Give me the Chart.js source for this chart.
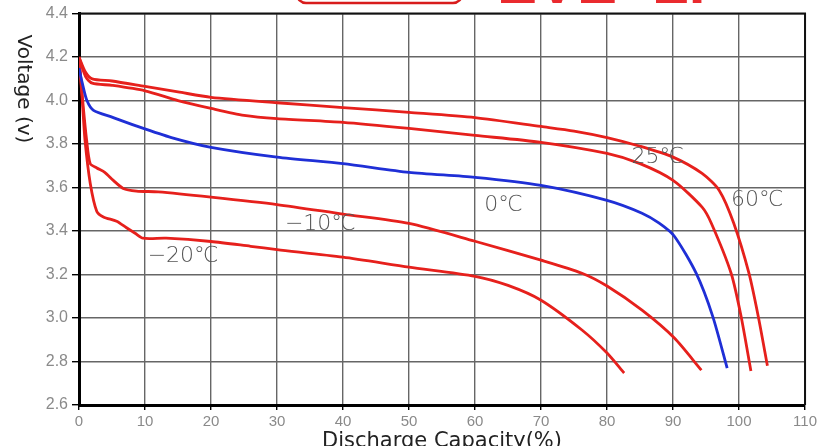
<!DOCTYPE html>
<html>
<head>
<meta charset="utf-8">
<script src="https://cdn.jsdelivr.net/npm/chart.js@4/dist/chart.umd.min.js"></script>
<style>
  html, body { margin: 0; padding: 0; background: #fff; }
  #wrap { width: 820px; height: 446px; }
</style>
</head>
<body>
<div id="wrap"><canvas id="myChart" width="820" height="446"></canvas></div>
<script>
// discharge capacity (%) / voltage (V)
const t60x = [0, 1, 2, 5, 10, 15, 20, 30, 40, 50, 60, 70, 75, 80, 85, 90, 94.4, 97, 99.2, 101.5, 102.9, 104.3];
const t60y = [4.2, 4.13, 4.1, 4.09, 4.065, 4.04, 4.015, 3.99, 3.968, 3.946, 3.922, 3.881, 3.86, 3.83, 3.79, 3.74, 3.665, 3.587, 3.436, 3.206, 3.009, 2.78];

const t25x = [0, 1, 2, 5, 10, 15, 20, 25, 30, 40, 50, 60, 70, 80, 85, 90, 94.4, 95.8, 98.8, 100.3, 101.8];
const t25y = [4.2, 4.11, 4.08, 4.07, 4.045, 4.0, 3.964, 3.932, 3.917, 3.9, 3.872, 3.84, 3.808, 3.757, 3.71, 3.633, 3.51, 3.436, 3.206, 3.009, 2.756];

const t0x = [0, 0.5, 1.2, 2.2, 5, 9, 14, 20, 30, 40, 50, 60, 70, 80, 85.3, 87.9, 90.2, 93.5, 96, 98.2];
const t0y = [4.15, 4.08, 4.0, 3.955, 3.924, 3.88, 3.83, 3.785, 3.74, 3.71, 3.67, 3.647, 3.61, 3.541, 3.482, 3.436, 3.376, 3.206, 3.009, 2.77];

const tm10x = [0, 0.65, 1.15, 1.7, 2.7, 3.9, 5.2, 6.7, 8.7, 12, 20, 30, 40, 50, 60, 70, 76.2, 80, 85.3, 90.2, 94.3];
const tm10y = [4.2, 3.97, 3.82, 3.71, 3.69, 3.67, 3.633, 3.596, 3.584, 3.58, 3.556, 3.522, 3.478, 3.435, 3.353, 3.266, 3.206, 3.147, 3.036, 2.908, 2.76];

const tm20x = [0, 0.5, 0.9, 1.7, 2.7, 3.7, 5.7, 7.2, 8.5, 9.7, 13.2, 20, 26, 30, 40, 50, 60, 65, 70, 76.2, 80, 82.6];
const tm20y = [4.2, 4.0, 3.82, 3.62, 3.49, 3.465, 3.445, 3.415, 3.39, 3.367, 3.367, 3.352, 3.33, 3.315, 3.28, 3.234, 3.192, 3.15, 3.082, 2.945, 2.839, 2.747];

const curveLabels = ['60℃', '25℃', '0℃', '−10℃', '−20℃'];
const curveColors = ['#e6201c', '#e6201c', '#1f2fd6', '#e6201c', '#e6201c'];

const xTicks = [0, 10, 20, 30, 40, 50, 60, 70, 80, 90, 100, 110];
const yTicks = [2.6, 2.8, 3.0, 3.2, 3.4, 3.6, 3.8, 4.0, 4.2, 4.4];

const xTitle = 'Discharge Capacity(%)';
const yTitle = 'Voltage (v)';

// where the temperature notes sit, in data units (left edge, middle)
const notePlaces = [
  [98.8, 3.541],
  [83.7, 3.739],
  [61.4, 3.518],
  [31.2, 3.431],
  [10.4, 3.284]
];

const toPoints = (xs, ys) => xs.map((x, i) => ({ x: x, y: ys[i] }));

const series = [
  toPoints(t60x, t60y),
  toPoints(t25x, t25y),
  toPoints(t0x, t0y),
  toPoints(tm10x, tm10y),
  toPoints(tm20x, tm20y)
];

const extras = {
  id: 'extras',
  beforeDraw(chart) {
    const c = chart.ctx;
    c.save();
    // cut-off red badge and lettering at the very top
    c.strokeStyle = '#d81c1c';
    c.lineWidth = 2.5;
    c.beginPath();
    c.roundRect(297, -30, 165, 33, 9);
    c.stroke();
    c.fillStyle = '#ea2a2e';
    c.font = 'bold 60px "Liberation Sans"';
    c.textBaseline = 'alphabetic';
    c.textAlign = 'left';
    c.fillText('EVE', 497, 3);
    c.fillText('LF', 652, 3);
    c.restore();
  },
  afterDraw(chart) {
    const c = chart.ctx;
    const a = chart.chartArea;
    const xs = chart.scales.x;
    const ys = chart.scales.y;
    c.save();
    // frame
    c.strokeStyle = '#111';
    c.lineWidth = 2;
    c.beginPath();
    c.moveTo(a.left, a.top);
    c.lineTo(a.right, a.top);
    c.lineTo(a.right, a.bottom);
    c.stroke();

    // temperature notes
    c.fillStyle = '#555';
    c.font = '200 22px "DejaVu Sans"';
    c.textAlign = 'left';
    c.textBaseline = 'middle';
    curveLabels.forEach((t, i) => {
      const p = notePlaces[i];
      c.fillText(t, xs.getPixelForValue(p[0]), ys.getPixelForValue(p[1]));
    });

    // y title, placed high like the original
    c.fillStyle = '#222';
    c.font = '20px "DejaVu Sans"';
    c.translate(23, 89);
    c.rotate(Math.PI / 2);
    c.textAlign = 'center';
    c.textBaseline = 'middle';
    c.fillText(yTitle, 0, 0);
    c.restore();

    // x title
    c.save();
    c.fillStyle = '#222';
    c.font = '21px "DejaVu Sans"';
    c.textAlign = 'center';
    c.textBaseline = 'alphabetic';
    c.fillText(xTitle, (a.left + a.right) / 2, 447);
    c.restore();
  }
};

const ctx = document.getElementById('myChart').getContext('2d');
new Chart(ctx, {
  type: 'scatter',
  data: {
    datasets: series.map((pts, i) => ({
      label: curveLabels[i],
      data: pts,
      showLine: true,
      borderColor: curveColors[i],
      borderWidth: 2.8,
      pointRadius: 0,
      tension: 0.25,
      fill: false
    }))
  },
  options: {
    responsive: false,
    animation: false,
    layout: { padding: { top: 13, right: 14, left: 0, bottom: 0 } },
    plugins: {
      legend: { display: false },
      tooltip: { enabled: false }
    },
    scales: {
      x: {
        type: 'linear',
        min: 0,
        max: 110,
        afterBuildTicks: (s) => { s.ticks = xTicks.map(v => ({ value: v })); },
        afterFit: (s) => { s.height = 41; },
        border: { color: '#000', width: 3 },
        grid: { color: '#666', lineWidth: 1.4, tickColor: '#000', tickLength: 5 },
        ticks: { color: '#8a8a8a', font: { size: 15, family: 'Liberation Sans' }, padding: 3, maxRotation: 0 }
      },
      y: {
        type: 'linear',
        min: 2.6,
        max: 4.4,
        afterBuildTicks: (s) => { s.ticks = yTicks.map(v => ({ value: v })); },
        afterFit: (s) => { s.width = 79; },
        border: { color: '#000', width: 3 },
        grid: { color: '#666', lineWidth: 1.4, tickColor: '#000', tickLength: 7 },
        ticks: { color: '#8a8a8a', font: { size: 16, family: 'Liberation Sans' }, padding: 4,
                 callback: (v) => Number(v).toFixed(1) }
      }
    }
  },
  plugins: [extras]
});
</script>
</body>
</html>
